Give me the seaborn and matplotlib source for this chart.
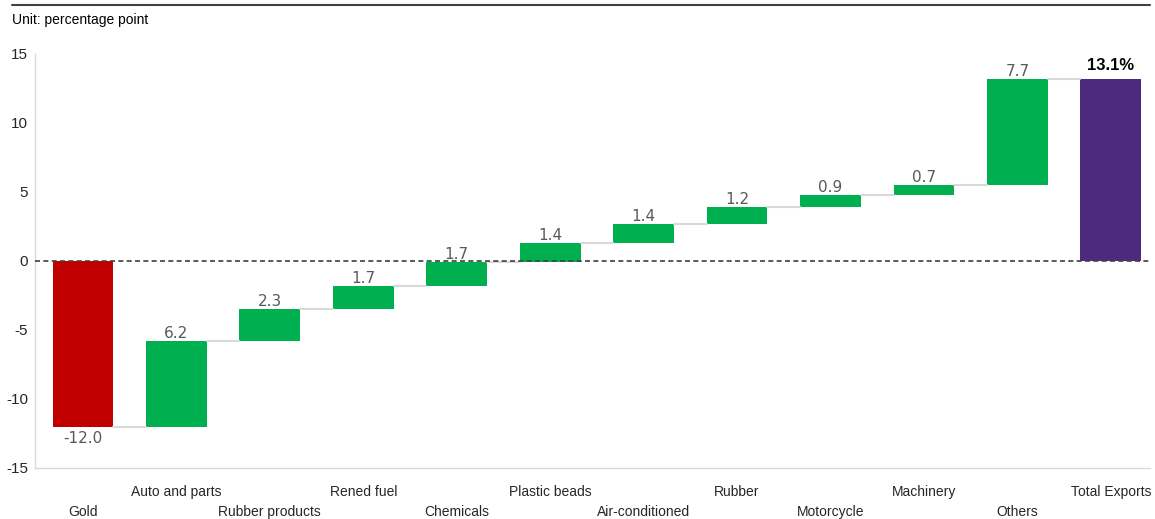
import numpy as np
import pandas as pd
import matplotlib
matplotlib.use("Agg")
import matplotlib.pyplot as plt
from matplotlib.lines import Line2D
import seaborn as sns

categories = ["Gold", "Auto and parts", "Rubber products", "Rened fuel", "Chemicals",
              "Plastic beads", "Air-conditioned", "Rubber", "Motorcycle", "Machinery",
              "Others", "Total Exports"]
contributions = [-12.0, 6.2, 2.3, 1.7, 1.7, 1.4, 1.4, 1.2, 0.9, 0.7, 7.7]
total_value = 13.1
value_labels = ["-12.0", "6.2", "2.3", "1.7", "1.7", "1.4", "1.4", "1.2", "0.9", "0.7", "7.7"]
total_label = "13.1%"
yticks = [-15, -10, -5, 0, 5, 10, 15]

RED, GREEN, PURPLE = "#C00000", "#00B050", "#4E2A7E"

sns.set_style("white")
plt.rcParams["font.family"] = ["Liberation Sans", "DejaVu Sans"]

contrib = np.array(contributions)
ends = np.cumsum(contrib)
starts = ends - contrib
total_height = ends[-1]

bottoms = np.append(np.minimum(starts, ends), 0.0)
heights = np.append(np.abs(contrib), total_height)
colors = [RED if v < 0 else GREEN for v in contrib] + [PURPLE]

df = pd.DataFrame({"cat": categories, "h": heights})

fig = plt.figure(figsize=(11.55, 5.19), dpi=100)
ax = fig.add_axes([0.0303, 0.0983, 0.9654, 0.7977])

sns.barplot(data=df, x="cat", y="h", bottom=bottoms, width=0.65, ax=ax,
            color=GREEN, saturation=1, errorbar=None)
for p, c in zip(ax.patches, colors):
    p.set_facecolor(c)
    p.set_edgecolor("none")

# connectors
levels = list(ends)
w = 0.65
for i in range(len(categories) - 1):
    lvl = levels[i]
    ax.plot([i + w / 2, i + 1 - w / 2], [lvl, lvl], color="#D9D9D9", lw=1.5, zorder=1)

# zero line
ax.axhline(0, color="#404040", lw=1.2, ls=(0, (3, 2)), zorder=3)

# value labels
for i, (v, lab) in enumerate(zip(contrib, value_labels)):
    if v < 0:
        ax.annotate(lab, (i, ends[i]), xytext=(0, -3), textcoords="offset points",
                    ha="center", va="top", fontsize=11, color="#595959", family="DejaVu Sans")
    else:
        ax.annotate(lab, (i, ends[i]), xytext=(0, 0), textcoords="offset points",
                    ha="center", va="bottom", fontsize=11, color="#595959", family="DejaVu Sans")
ax.annotate(total_label, (len(categories) - 1, total_height), xytext=(0, 4),
            textcoords="offset points", ha="center", va="bottom", fontsize=12,
            fontweight="bold", color="black")

ax.set_ylim(-15, 15)
ax.set_xlim(-0.513, 11.42)
ax.set_yticks(yticks)
ax.set_yticklabels([str(t) for t in yticks], fontsize=11)
ax.set_xticks(range(len(categories)))
ax.set_xticklabels([("\n" + c) if i % 2 == 0 else c for i, c in enumerate(categories)],
                   fontsize=10, linespacing=1.62)
ax.set_xlabel("")
ax.set_ylabel("")
ax.tick_params(axis="both", length=0)
ax.tick_params(axis="x", pad=12)
ax.tick_params(axis="y", pad=5)
for s in ["top", "right"]:
    ax.spines[s].set_visible(False)
for s in ["left", "bottom"]:
    ax.spines[s].set_color("#D9D9D9")
    ax.spines[s].set_linewidth(1.0)

fig.add_artist(Line2D([12 / 1155, 1150 / 1155], [1 - 5 / 519, 1 - 5 / 519],
                      color="#404040", lw=1.5, transform=fig.transFigure))
fig.text(12 / 1155, 1 - 20 / 519, "Unit: percentage point", fontsize=10,
         ha="left", va="center", color="black")

fig.savefig("out.png", dpi=100)
